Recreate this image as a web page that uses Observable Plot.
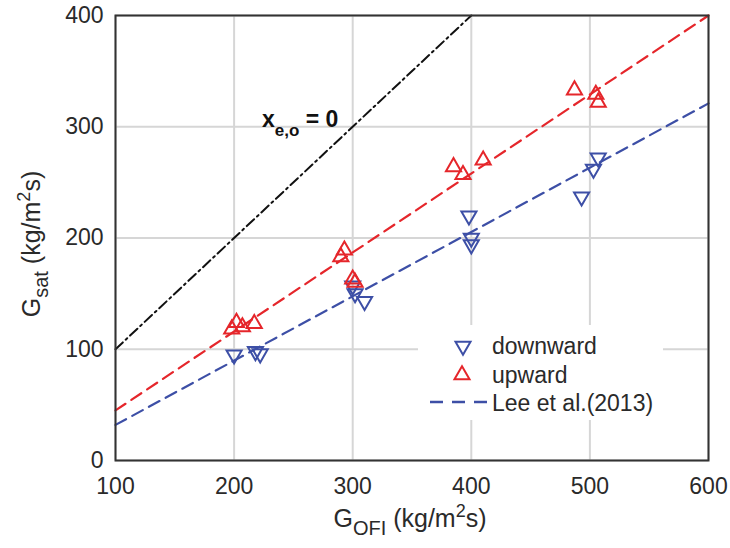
<!DOCTYPE html>
<html><head><meta charset="utf-8">
<script src="https://cdn.jsdelivr.net/npm/d3@7"></script>
<script src="https://cdn.jsdelivr.net/npm/@observablehq/plot@0.6"></script>
<style>
html,body{margin:0;padding:0;background:#fff;}
svg{font-family:"Liberation Sans",Arial,sans-serif;}
</style>
</head><body><div id="chart"></div>
<script>
// Data
const downG_OFI = [200, 218, 222, 300, 302, 310, 398, 400, 400, 493, 503, 507];
const downG_sat = [95, 98, 96, 157, 150, 143, 220, 200, 194, 237, 262, 272];
const upG_OFI = [198, 202, 207, 217, 290, 293, 300, 302, 385, 393, 410, 487, 505, 507];
const upG_sat = [118, 124, 120, 123, 183, 189, 163, 160, 264, 257, 270, 333, 329, 322];
const upFitX = [100, 600];
const upFitY = [45, 400];
const leeFitX = [100, 600];
const leeFitY = [32, 321];
const zeroX = [100, 400];
const zeroY = [100, 400];
const xTicks = [100, 200, 300, 400, 500, 600];
const yTicks = [0, 100, 200, 300, 400];

const RED = "#e5262b";
const BLUE = "#3d4fa6";

const down = downG_OFI.map((x, i) => ({x, y: downG_sat[i]}));
const up = upG_OFI.map((x, i) => ({x, y: upG_sat[i]}));
const upFit = upFitX.map((x, i) => ({x, y: upFitY[i]}));
const leeFit = leeFitX.map((x, i) => ({x, y: leeFitY[i]}));
const zero = zeroX.map((x, i) => ({x, y: zeroY[i]}));

const plot = Plot.plot({
  width: 730, height: 548,
  marginLeft: 115, marginRight: 22, marginTop: 15, marginBottom: 88,
  style: {fontSize: "23px", fontFamily: "Liberation Sans, Arial, sans-serif", color: "#2a2a2a", background: "#fff"},
  x: {domain: [100, 600], label: null},
  y: {domain: [0, 400], label: null},
  marks: [
    Plot.gridX(xTicks, {stroke: "#d6d6d6", strokeOpacity: 1, strokeWidth: 2}),
    Plot.gridY(yTicks, {stroke: "#d6d6d6", strokeOpacity: 1, strokeWidth: 2}),
    Plot.line(zero, {x: "x", y: "y", stroke: "#111", strokeWidth: 2, strokeDasharray: "10,4,2,4"}),
    Plot.line(upFit, {x: "x", y: "y", stroke: RED, strokeWidth: 2.2, strokeDasharray: "12,7"}),
    Plot.line(leeFit, {x: "x", y: "y", stroke: BLUE, strokeWidth: 2.2, strokeDasharray: "12,7"}),
    Plot.dot(down, {x: "x", y: "y", symbol: "triangle", rotate: 180, r: 5.6, stroke: BLUE, strokeWidth: 2, fill: "none"}),
    Plot.dot(up, {x: "x", y: "y", symbol: "triangle", r: 5.6, stroke: RED, strokeWidth: 2, fill: "none"}),
    Plot.axisX({ticks: xTicks, tickSize: 0, tickPadding: 17, label: null}),
    Plot.axisY({ticks: yTicks, tickSize: 0, tickPadding: 12, label: null}),
    Plot.frame({stroke: "#333", strokeWidth: 2})
  ]
});
document.getElementById("chart").appendChild(plot);

const svg = d3.select(plot);

// Axis titles with subscripts / superscripts
function title(sel, main, sub) {
  sel.attr("text-anchor", "middle").attr("font-size", 25).attr("fill", "#2a2a2a");
  sel.append("tspan").text("G");
  sel.append("tspan").attr("dy", 8).attr("font-size", 20).text(sub);
  sel.append("tspan").attr("dy", -8).text(" (kg/m");
  sel.append("tspan").attr("dy", -10).attr("font-size", 18).text("2");
  sel.append("tspan").attr("dy", 10).text("s)");
}
title(svg.append("text").attr("x", 410).attr("y", 527), "G", "OFI");
title(svg.append("text").attr("transform", "translate(40,244) rotate(-90)"), "G", "sat");

// Annotation
const an = svg.append("text").attr("x", 262).attr("y", 127).attr("text-anchor", "start")
  .attr("font-size", 23).attr("font-weight", "bold").attr("fill", "#111");
an.append("tspan").text("x");
an.append("tspan").attr("dy", 9).attr("font-size", 17).text("e,o");
an.append("tspan").attr("dy", -9).text(" = 0");

// Legend
const lg = svg.append("g");
lg.append("rect").attr("x", 418).attr("y", 325).attr("width", 245).attr("height", 95).attr("fill", "#fff");
lg.append("path").attr("d", d3.symbol(d3.symbolTriangle, 98)()).attr("transform", "translate(463,346) rotate(180)")
  .attr("fill", "none").attr("stroke", BLUE).attr("stroke-width", 2);
lg.append("path").attr("d", d3.symbol(d3.symbolTriangle, 98)()).attr("transform", "translate(462,375)")
  .attr("fill", "none").attr("stroke", RED).attr("stroke-width", 2);
lg.append("line").attr("x1", 430).attr("x2", 488).attr("y1", 402).attr("y2", 402)
  .attr("stroke", BLUE).attr("stroke-width", 2.4).attr("stroke-dasharray", "13,9");
const lt = [["downward", 354], ["upward", 383], ["Lee et al.(2013)", 411]];
lt.forEach(([t, y]) => lg.append("text").attr("x", 492).attr("y", y).attr("text-anchor", "start")
  .attr("font-size", 23).attr("fill", "#2a2a2a").text(t));
</script>
</body></html>
